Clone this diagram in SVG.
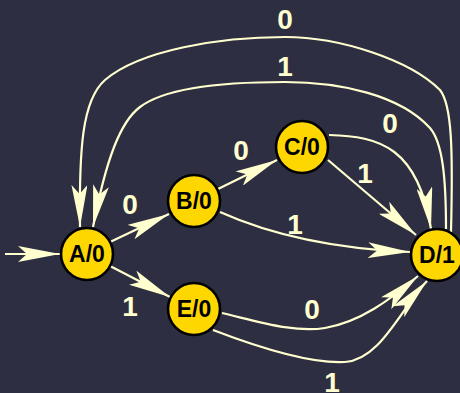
<svg xmlns="http://www.w3.org/2000/svg" width="460" height="393" viewBox="0 0 460 393">
<style>
.e{fill:none;stroke:#ffffd0;stroke-width:2.2;marker-end:url(#ah)}
.n circle{fill:#ffd700;stroke:#000;stroke-width:2.6}
.n text{font-family:"Liberation Sans",Arial,sans-serif;font-weight:bold;font-size:23px;text-anchor:middle;fill:#000}
.l{font-family:"Liberation Sans",Arial,sans-serif;font-weight:bold;font-size:28px;text-anchor:middle;fill:#ffffd0}
</style>
<defs>
<marker id="ah" markerUnits="userSpaceOnUse" markerWidth="44" markerHeight="16" refX="42" refY="8" orient="auto" viewBox="0 0 44 16">
<path d="M0,0 L42,8 L0,16 L9,8 Z" fill="#ffffd0"/>
</marker>
</defs>
<rect width="460" height="393" fill="#2e2e42"/>
<g id="connectors">
<path class="e" d="M5,254 L60,254"/>
<path class="e" d="M110,242 L169,214"/>
<path class="e" d="M110,266 L170,297"/>
<path class="e" d="M218,189 L277,160"/>
<path class="e" d="M220,212 C260,230 320,248 410,252"/>
<path class="e" d="M328,160 L416,235"/>
<path class="e" d="M329,135 C380,136 418,148 431,229"/>
<path class="e" d="M222,313 C260,322 295,333 325,328 C360,322 390,300 418,276"/>
<path class="e" d="M213,330 C260,348 310,364 345,362 C380,360 400,310 427,281"/>
<path class="e" d="M451,232 C453,150 452,105 440,90 C410,60 340,37 285,37 C220,37 140,50 105,80 C82,100 79,150 80,227"/>
<path class="e" d="M446,229 C446,180 443,143 430,128 C400,95 340,82 285,82 C220,82 165,88 140,107 C120,122 106,160 93,227"/>
<text class="l" x="285" y="29">0</text>
<text class="l" x="285" y="76">1</text>
<text class="l" x="390" y="133">0</text>
<text class="l" x="241" y="160">0</text>
<text class="l" x="365" y="183">1</text>
<text class="l" x="130" y="214">0</text>
<text class="l" x="295" y="234">1</text>
<text class="l" x="130" y="316">1</text>
<text class="l" x="312" y="319">0</text>
<text class="l" x="332" y="392">1</text>
</g>
<g id="A" class="n"><circle cx="87" cy="254" r="26"/><text x="87" y="262">A/0</text></g>
<g id="B" class="n"><circle cx="194" cy="201" r="26"/><text x="194" y="209">B/0</text></g>
<g id="C" class="n"><circle cx="302" cy="147" r="26"/><text x="302" y="155">C/0</text></g>
<g id="D" class="n"><circle cx="437" cy="255" r="26"/><text x="437" y="263">D/1</text></g>
<g id="E" class="n"><circle cx="194" cy="309" r="26"/><text x="194" y="317">E/0</text></g>
</svg>
